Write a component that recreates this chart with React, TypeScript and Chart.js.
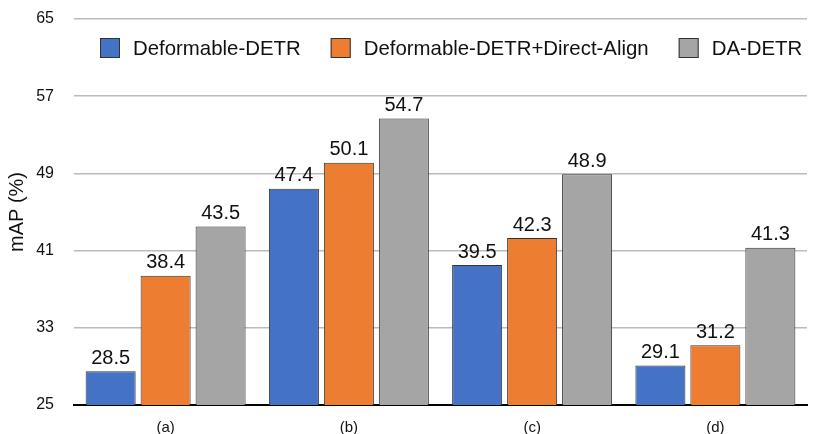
import { useEffect, useRef } from "react";
import { Chart, registerables } from "chart.js";

Chart.register(...registerables);

const groups = ["(a)", "(b)", "(c)", "(d)"];
const seriesNames = ["Deformable-DETR", "Deformable-DETR+Direct-Align", "DA-DETR"];
const deformable = [28.5, 47.4, 39.5, 29.1];
const directAlign = [38.4, 50.1, 42.3, 31.2];
const daDetr = [43.5, 54.7, 48.9, 41.3];
const colors = ["#4472C4", "#ED7D31", "#A5A5A5"];

const FONT = "'Liberation Sans', Arial, Helvetica, sans-serif";

// valores em cima de cada barra
const valueLabels = {
  id: "valueLabels",
  afterDatasetsDraw(chart: any) {
    const ctx = chart.ctx;
    ctx.save();
    ctx.font = `20px ${FONT}`;
    ctx.fillStyle = "#111";
    ctx.textAlign = "center";
    ctx.textBaseline = "bottom";
    chart.data.datasets.forEach((ds: any, i: number) => {
      const meta = chart.getDatasetMeta(i);
      meta.data.forEach((bar: any, j: number) => {
        ctx.fillText(ds.data[j].toFixed(1), bar.x, bar.y - 3);
      });
    });
    ctx.restore();
  },
};

// legenda dentro da área do gráfico, numa linha só
const innerLegend = {
  id: "innerLegend",
  afterDraw(chart: any) {
    const ctx = chart.ctx;
    const area = chart.chartArea;
    ctx.save();
    ctx.font = `20.4px ${FONT}`;
    ctx.textBaseline = "middle";
    ctx.textAlign = "left";
    let x = area.left + 26;
    const boxTop = area.top + 19;
    chart.data.datasets.forEach((ds: any) => {
      ctx.fillStyle = ds.backgroundColor;
      ctx.fillRect(x, boxTop, 20, 20);
      ctx.strokeStyle = "#333";
      ctx.lineWidth = 1;
      ctx.strokeRect(x + 0.5, boxTop + 0.5, 19, 19);
      ctx.fillStyle = "#111";
      ctx.fillText(ds.label, x + 33, boxTop + 11);
      x += 33 + ctx.measureText(ds.label).width + 30;
    });
    ctx.restore();
  },
};

export default function App() {
  const canvasRef = useRef<HTMLCanvasElement>(null);
  const chartRef = useRef<Chart<"bar"> | null>(null);

  useEffect(() => {
    document.body.style.margin = "0";
    if (!canvasRef.current) return;
    if (chartRef.current) chartRef.current.destroy();

    const values = [deformable, directAlign, daDetr];

    chartRef.current = new Chart(canvasRef.current, {
      type: "bar",
      data: {
        labels: groups,
        datasets: seriesNames.map((name, i) => ({
          label: name,
          data: values[i],
          backgroundColor: colors[i],
          borderColor: "#333",
          borderWidth: 1,
          categoryPercentage: 0.9,
          barPercentage: 0.91,
        })),
      },
      options: {
        animation: false,
        responsive: true,
        maintainAspectRatio: false,
        layout: { padding: { left: 5, right: 23, top: 19, bottom: 0 } },
        plugins: {
          legend: { display: false },
          tooltip: { enabled: false },
        },
        scales: {
          x: {
            grid: { display: false },
            border: { color: "#000", width: 2 },
            ticks: { color: "#111", padding: 6, font: { family: FONT, size: 15 } },
            afterFit: (scale: any) => {
              scale.height = 29;
            },
          },
          y: {
            min: 25,
            max: 65,
            ticks: { stepSize: 8, color: "#111", padding: 20, font: { family: FONT, size: 16 } },
            grid: { color: "#bbb", lineWidth: 1.5, drawTicks: false },
            border: { display: false },
            title: {
              display: true,
              text: "mAP (%)",
              color: "#111",
              padding: { top: 0, bottom: 4 },
              font: { family: FONT, size: 20 },
            },
            afterFit: (scale: any) => {
              scale.width = 69;
              scale.paddingTop = 0;
              scale.paddingBottom = 0;
            },
          },
        },
      },
      plugins: [valueLabels, innerLegend],
    });

    return () => {
      if (chartRef.current) {
        chartRef.current.destroy();
        chartRef.current = null;
      }
    };
  }, []);

  return (
    <div style={{ width: 830, height: 434, background: "#fff" }}>
      <canvas ref={canvasRef} />
    </div>
  );
}
